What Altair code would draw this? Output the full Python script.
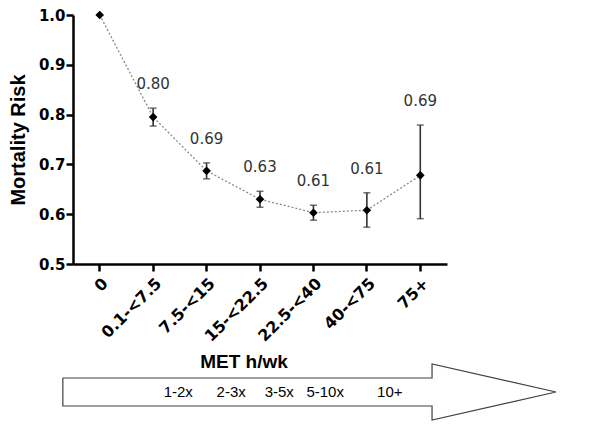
import altair as alt
import pandas as pd

# ---- data ----
categories = ["0", "0.1-<7.5", "7.5-<15", "15-<22.5", "22.5-<40", "40-<75", "75+"]
risk = [1.0, 0.795, 0.687, 0.630, 0.603, 0.608, 0.678]
lower = [1.0, 0.777, 0.671, 0.614, 0.588, 0.574, 0.591]
upper = [1.0, 0.813, 0.703, 0.646, 0.618, 0.643, 0.779]
value_labels = ["", "0.80", "0.69", "0.63", "0.61", "0.61", "0.69"]

freq_labels = ["1-2x", "2-3x", "3-5x", "5-10x", "10+"]
freq_pos = [1.47, 2.46, 3.36, 4.22, 5.43]

# arrow outline (in arrow-panel units)
arrow_x = [-0.69, 6.22, 6.22, 8.54, 6.22, 6.22, -0.69, -0.69]
arrow_y = [0.5, 0.5, 1.0, 0.0, -1.0, -0.5, -0.5, 0.5]
arrow_order = [0, 1, 2, 3, 4, 5, 6, 7]

x_title = ["MET h/wk"]
x_title_pos = [2.70]
x_title_y = [1.07]

df = pd.DataFrame({"cat": categories, "risk": risk, "lower": lower,
                   "upper": upper, "label": value_labels})
df_err = df[df["cat"] != "0"]

X = alt.X("cat:N", sort=categories, title=None,
          axis=alt.Axis(labelAngle=-45, labelFont="DejaVu Sans", labelFontWeight="bold",
                        labelFontSize=16, labelColor="black", labelPadding=4))
Y = alt.Y("risk:Q", title="Mortality Risk",
          scale=alt.Scale(domain=[0.5, 1.0], nice=False, zero=False),
          axis=alt.Axis(values=[0.5, 0.6, 0.7, 0.8, 0.9, 1.0], format=".1f",
                        labelFont="DejaVu Sans", labelFontWeight="bold", labelFontSize=15,
                        labelColor="black", titleFont="Liberation Sans", titleFontWeight="bold",
                        titleFontSize=20, titleColor="black", titlePadding=10, labelPadding=1))

line = alt.Chart(df).mark_line(color="#8a8a8a", strokeDash=[2, 2], strokeWidth=1.3).encode(x=X, y=Y)
rules = alt.Chart(df_err).mark_rule(color="#333333", strokeWidth=1.6).encode(
    x=X, y=alt.Y("lower:Q"), y2="upper:Q")
cap_hi = alt.Chart(df_err).mark_tick(color="#333333", thickness=1.5, size=7).encode(x=X, y="upper:Q")
cap_lo = alt.Chart(df_err).mark_tick(color="#333333", thickness=1.5, size=7).encode(x=X, y="lower:Q")
pts = alt.Chart(df).mark_point(shape="diamond", filled=True, color="black", size=75, opacity=1).encode(x=X, y=Y)
txt = alt.Chart(df_err).mark_text(font="DejaVu Sans", fontSize=15, color="#333333",
                                  baseline="middle", dy=-24).encode(x=X, y="upper:Q", text="label:N")

top = alt.layer(line, rules, cap_hi, cap_lo, pts, txt).properties(width=374, height=249)

# ---- arrow panel ----
arrow_df = pd.DataFrame({"x": arrow_x, "y": arrow_y, "o": arrow_order})
freq_df = pd.DataFrame({"x": freq_pos, "label": freq_labels, "y": [0] * len(freq_labels)})
title_df = pd.DataFrame({"x": x_title_pos, "label": x_title, "y": x_title_y})

AX = alt.Scale(domain=[-0.5, 6.5], nice=False, zero=False)
AY = alt.Scale(domain=[-1, 1], nice=False, zero=False)

arrow = alt.Chart(arrow_df).mark_line(color="#404040", strokeWidth=1.2).encode(
    x=alt.X("x:Q", scale=AX, axis=None),
    y=alt.Y("y:Q", scale=AY, axis=None),
    order="o:Q")
freq = alt.Chart(freq_df).mark_text(font="Liberation Sans", fontSize=15, color="black").encode(
    x=alt.X("x:Q", scale=AX, axis=None), y=alt.Y("y:Q", scale=AY, axis=None), text="label:N")
ttl = alt.Chart(title_df).mark_text(font="Liberation Sans", fontSize=19, fontWeight="bold",
                                    color="black").encode(
    x=alt.X("x:Q", scale=AX, axis=None), y=alt.Y("y:Q", scale=AY, axis=None), text="label:N")

bottom = alt.layer(arrow, freq, ttl).properties(width=374, height=56)

chart = alt.vconcat(top, bottom, spacing=8).configure_view(stroke=None).configure_axis(
    grid=False, domainColor="black", domainWidth=2.5, tickColor="black", tickWidth=2.5,
    tickSize=7).properties(padding={"left": 0, "top": 0, "right": 5, "bottom": 5})

chart.save("out.html", embed_options={"renderer": "svg", "actions": False})
